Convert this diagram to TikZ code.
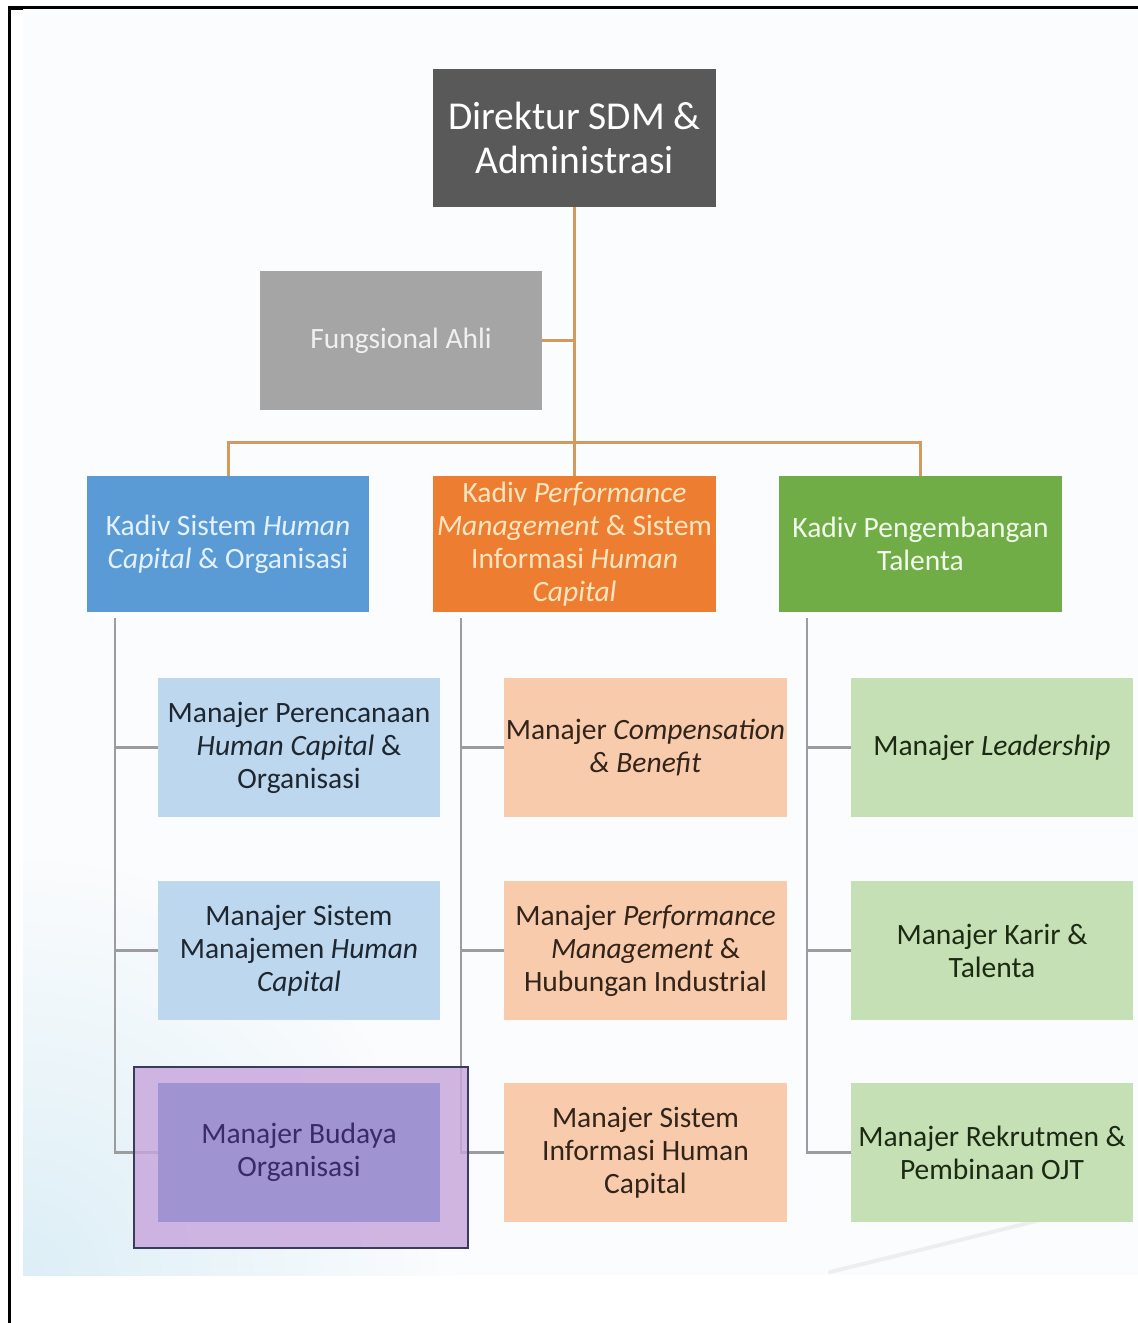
\documentclass[tikz,border=0pt]{standalone}
\usepackage{fontspec}
\setmainfont{Carlito}
\usetikzlibrary{positioning}

\definecolor{dirgray}{HTML}{595959}
\definecolor{funggray}{HTML}{A5A5A5}
\definecolor{kblue}{HTML}{5B9BD5}
\definecolor{korange}{HTML}{ED7D31}
\definecolor{kgreen}{HTML}{70AD47}
\definecolor{mblue}{HTML}{BDD7EE}
\definecolor{morange}{HTML}{F8CBAD}
\definecolor{mgreen}{HTML}{C5E0B4}
\definecolor{bdinner}{HTML}{9F93D1}
\definecolor{bdouter}{HTML}{C8A6DC}
\definecolor{bdframe}{HTML}{3B3B5E}
\definecolor{bdtext}{HTML}{3A2A6C}
\definecolor{trunk}{HTML}{D29A5E}
\definecolor{branch}{HTML}{9C9C9C}
\definecolor{bgblue}{HTML}{DCEEF6}
\definecolor{bgwhite}{HTML}{FBFCFD}
\definecolor{txtblue}{HTML}{E4F2FF}
\definecolor{txtcream}{HTML}{FDE6C0}
\definecolor{txtgreen}{HTML}{F2FAEC}
\definecolor{dkblue}{HTML}{1E2630}
\definecolor{dkbrown}{HTML}{33241A}
\definecolor{dkgreen}{HTML}{1C2A14}

\tikzset{
  box/.style={rectangle, inner sep=0pt, align=center,
    font=\fontsize{29.5}{33}\selectfont},
  wide/.style={box, minimum width=283pt, minimum height=139pt},
  kadiv/.style={box, minimum width=283pt, minimum height=136pt},
  mgr/.style={box, minimum width=282pt, minimum height=139pt},
  trunkline/.style={draw=trunk, line width=3pt},
  branchline/.style={draw=branch, line width=2.5pt},
}

\begin{document}
\begin{tikzpicture}[x=1pt,y=-1pt]
\useasboundingbox (0,0) rectangle (1138,1323);

% slide background with soft tint in the lower left
\begin{scope}
  \clip (23,8) rectangle (1138,1275);
  \fill[bgwhite] (23,8) rectangle (1138,1275);
  \shade[inner color=bgblue, outer color=bgwhite] (23,1275) circle (430);
\end{scope}
\draw[black!8, line width=4pt, line cap=round, opacity=0.8] (830,1272) .. controls (920,1250) .. (1060,1215);

% page frame
\draw[black, line width=2.5pt] (8,7.5) -- (1138,7.5);
\draw[black, line width=3pt] (9,6) -- (9,1323);
\fill[black] (8,6) rectangle (23,9.5);

% top level
\node[wide, fill=dirgray, text=white, font=\fontsize{39.5}{44}\selectfont,
      minimum height=138pt] (dir) at (574.5,138) {Direktur SDM \&\\Administrasi};
\node[box, fill=funggray, text=white!94!black, minimum width=282pt,
      minimum height=139pt] (fung) at (401,340.5) {Fungsional Ahli};

% heads of division
\node[kadiv, fill=kblue, text=txtblue, minimum width=282pt] (kA) at (228,544)
  {Kadiv Sistem \textit{Human}\\\textit{Capital} \& Organisasi};
\node[kadiv, fill=korange, text=txtcream] (kB) at (574.5,544)
  {Kadiv \textit{Performance}\\\textit{Management} \& Sistem\\Informasi \textit{Human}\\\textit{Capital}};
\node[kadiv, fill=kgreen, text=txtgreen] (kC) at (920.5,544)
  {Kadiv Pengembangan\\Talenta};

% managers
\node[mgr, fill=mblue, text=dkblue] (mA1) at (299,747.5)
  {Manajer Perencanaan\\\textit{Human Capital} \&\\Organisasi};
\node[mgr, fill=mblue, text=dkblue] (mA2) at (299,950.5)
  {Manajer Sistem\\Manajemen \textit{Human}\\\textit{Capital}};
\node[mgr, fill=morange, text=dkbrown, minimum width=283pt] (mB1) at (645.5,747.5)
  {Manajer \textit{Compensation}\\\textit{\& Benefit}};
\node[mgr, fill=morange, text=dkbrown, minimum width=283pt] (mB2) at (645.5,950.5)
  {Manajer \textit{Performance}\\\textit{Management} \&\\Hubungan Industrial};
\node[mgr, fill=morange, text=dkbrown, minimum width=283pt] (mB3) at (645.5,1152.5)
  {Manajer Sistem\\Informasi Human\\Capital};
\node[mgr, fill=mgreen, text=dkgreen] (mC1) at (992,747.5)
  {Manajer \textit{Leadership}};
\node[mgr, fill=mgreen, text=dkgreen] (mC2) at (992,950.5)
  {Manajer Karir \&\\Talenta};
\node[mgr, fill=mgreen, text=dkgreen] (mC3) at (992,1152.5)
  {Manajer Rekrutmen \&\\Pembinaan OJT};

% upper connectors
\coordinate (bus) at (574.5,442);
\draw[trunkline] (dir.south) -- (kB.north);
\draw[trunkline] (fung.east) -- (fung.east -| dir.south);
\draw[trunkline] (kA.north) |- (bus) -| (kC.north);

% spines below each division head
\coordinate (sA) at ([xshift=28pt,yshift=-6pt]kA.south west);
\coordinate (sB) at ([xshift=28pt,yshift=-6pt]kB.south west);
\coordinate (sC) at ([xshift=28pt,yshift=-6pt]kC.south west);
\coordinate (mA3w) at (158,1152.5);

\draw[branchline] (sA) |- (mA3w);
\draw[branchline] (sA |- mA1.west) -- (mA1.west);
\draw[branchline] (sA |- mA2.west) -- (mA2.west);
\draw[branchline] (sB) |- (mB3.west);
\draw[branchline] (sB |- mB1.west) -- (mB1.west);
\draw[branchline] (sB |- mB2.west) -- (mB2.west);
\draw[branchline] (sC) |- (mC3.west);
\draw[branchline] (sC |- mC1.west) -- (mC1.west);
\draw[branchline] (sC |- mC2.west) -- (mC2.west);

% highlighted manager
\node[rectangle, minimum width=334pt, minimum height=181pt, inner sep=0pt,
      fill=bdouter, fill opacity=0.82, draw=bdframe, draw opacity=1,
      line width=2pt] (hl) at (301,1157.5) {};
\node[mgr, fill=bdinner, text=bdtext] (mA3) at (299,1152.5)
  {Manajer Budaya\\Organisasi};

\end{tikzpicture}
\end{document}
